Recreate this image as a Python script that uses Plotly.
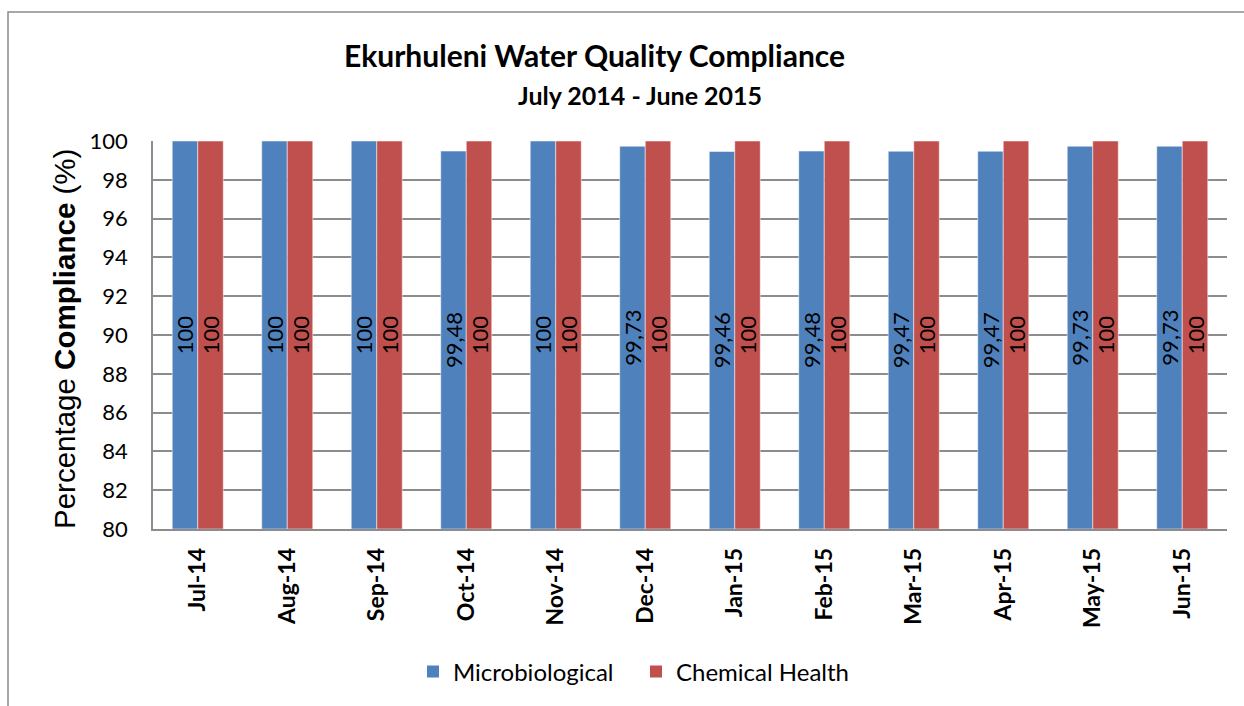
import plotly.graph_objects as go

months = ["Jul-14", "Aug-14", "Sep-14", "Oct-14", "Nov-14", "Dec-14",
          "Jan-15", "Feb-15", "Mar-15", "Apr-15", "May-15", "Jun-15"]
microbiological = [100, 100, 100, 99.48, 100, 99.73, 99.46, 99.48, 99.47, 99.47, 99.73, 99.73]
chemical_health = [100, 100, 100, 100, 100, 100, 100, 100, 100, 100, 100, 100]
y_ticks = list(range(80, 101, 2))
AXIS_MIN = 80

def fmt(v):
    s = ("%.2f" % v).rstrip("0").rstrip(".")
    return s.replace(".", ",")

W, H = 1244, 706
L, R, T, B = 153, 17, 141, 177
pw, ph = W - L - R, H - T - B

def px_x(p):
    return (p - L) / pw

def px_y(p):
    return (H - B - p) / ph

FONT = "Lato"
label_font = dict(family=FONT, size=22, color="black")
BLUE, RED = "#4F81BD", "#C0504D"

fig = go.Figure()
for name, vals, col in [("Microbiological", microbiological, BLUE),
                        ("Chemical Health", chemical_health, RED)]:
    fig.add_trace(go.Bar(
        x=months, y=[v - AXIS_MIN for v in vals], base=AXIS_MIN, name=name,
        marker=dict(color=col, line=dict(color="#FFFFFF", width=0.5)),
        text=[fmt(v) for v in vals], textposition="inside",
        textangle=-90, insidetextanchor="middle", textfont=label_font,
        customdata=vals, hovertemplate="%{x}: %{customdata}<extra>" + name + "</extra>",
        showlegend=False,
    ))
    # legend entry with a larger square symbol
    fig.add_trace(go.Scatter(
        x=[None], y=[None], mode="markers", name=name,
        marker=dict(symbol="square", size=15, color=col), showlegend=True,
    ))

fig.update_layout(
    width=W, height=H,
    margin=dict(l=L, r=R, t=T, b=B, autoexpand=False),
    paper_bgcolor="white", plot_bgcolor="white",
    barmode="group", bargap=0.43, bargroupgap=0,
    font=dict(family=FONT, color="black"),
    showlegend=True,
    legend=dict(orientation="h", x=px_x(636), xanchor="center", y=px_y(672), yanchor="middle",
                font=dict(family=FONT, size=24, color="black"),
                itemsizing="constant", traceorder="normal", itemwidth=30,
                entrywidth=178, entrywidthmode="pixels",
                bgcolor="rgba(0,0,0,0)"),
    uniformtext=dict(mode="show", minsize=22),
)
fig.update_yaxes(
    range=[80, 100], tickvals=y_ticks, ticktext=[str(v) for v in y_ticks],
    showgrid=True, gridcolor="#8C8C8C", gridwidth=1.5,
    showline=True, linecolor="#8C8C8C", linewidth=1.5,
    ticks="", ticklabelstandoff=19,
    tickfont=dict(family=FONT, size=22, color="black"),
    zeroline=False,
)
fig.update_xaxes(
    showline=True, linecolor="#8C8C8C", linewidth=1.5,
    tickangle=-90, ticks="", tickfont=dict(family=FONT, size=23, color="black"),
    ticklabelstandoff=8,
    tickvals=months, ticktext=["<b>%s</b>" % m for m in months],
)

fig.add_annotation(
    text="<b>Ekurhuleni Water Quality Compliance</b>", xref="paper", yref="paper",
    x=px_x(594), y=px_y(55), showarrow=False, font=dict(family=FONT, size=30, color="black"),
    xanchor="center", yanchor="middle",
)
fig.add_annotation(
    text="<b>July 2014 - June 2015</b>", xref="paper", yref="paper",
    x=px_x(640), y=px_y(95), showarrow=False, font=dict(family=FONT, size=25, color="black"),
    xanchor="center", yanchor="middle",
)
fig.add_annotation(
    text="Percentage <b>Compliance</b> (%)", xref="paper", yref="paper",
    x=px_x(64), y=px_y(339), showarrow=False, textangle=-90,
    font=dict(family="Liberation Sans", size=29.5, color="black"),
    xanchor="center", yanchor="middle",
)
fig.add_shape(
    type="rect", xref="paper", yref="paper",
    x0=px_x(8), x1=px_x(1260), y0=px_y(730), y1=px_y(12),
    line=dict(color="#8C8C8C", width=1.5), fillcolor="rgba(0,0,0,0)", layer="below",
)

fig.write_html("out.html", config={"displayModeBar": False})
with open("out.html", "r", encoding="utf-8") as f:
    html = f.read()
html = html.replace("<head>", "<head><style>html,body{margin:0;padding:0;overflow:hidden;}</style>", 1)
with open("out.html", "w", encoding="utf-8") as f:
    f.write(html)
